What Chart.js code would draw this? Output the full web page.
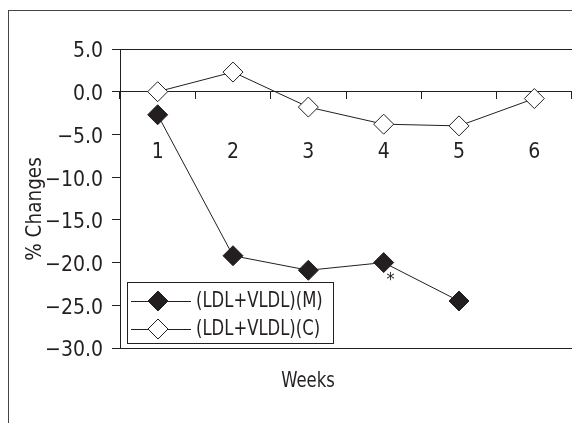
<!DOCTYPE html>
<html>
<head>
<meta charset="utf-8">
<script src="https://cdn.jsdelivr.net/npm/chart.js@4/dist/chart.umd.min.js"></script>
<style>
  html, body { margin: 0; padding: 0; background: #fff; }
  #wrap { width: 572px; height: 423px; }
</style>
</head>
<body>
<div id="wrap"><canvas id="lineChart" width="572" height="423"></canvas></div>
<script>
// values
const weeks = ['1', '2', '3', '4', '5', '6'];
const seriesM = [-2.7, -19.2, -20.9, -20.0, -24.5, null];
const seriesC = [0.0, 2.3, -1.8, -3.8, -4.0, -0.8];
const labelM = '(LDL+VLDL)(M)';
const labelC = '(LDL+VLDL)(C)';
const starWeek = 3; // index of the week marked with *

const FONT = "'Liberation Sans Narrow', 'DejaVu Sans Condensed', sans-serif";
const INK = '#231f20';

// squeezed text, the source font is a tall condensed face
function narrowText(c, text, x, y, squeeze) {
    c.save();
    c.translate(x, y);
    c.scale(squeeze, 1);
    c.fillText(text, 0, 0);
    c.restore();
}

// frame, titles, legend and the * mark
const extras = {
    id: 'extras',
    afterDraw(chart) {
        const c = chart.ctx;
        c.save();
        c.strokeStyle = '#444';
        c.lineWidth = 1;
        c.strokeRect(8.5, 10.5, chart.width + 20, chart.height + 20);

        c.fillStyle = INK;
        c.font = '21px ' + FONT;
        c.textAlign = 'center';
        c.textBaseline = 'middle';
        narrowText(c, 'Weeks', 308, 382, 0.87);

        c.save();
        c.translate(36, 209);
        c.rotate(-Math.PI / 2);
        c.font = '20.5px ' + FONT;
        c.fillText('% Changes', 0, 0);
        c.restore();

        // asterisk beside the marked point
        const pt = chart.getDatasetMeta(0).data[starWeek];
        c.font = '18px ' + FONT;
        c.fillText('*', pt.x + 7, pt.y + 18);

        // legend box
        const bx = 127, by = 282, bw = 206, bh = 61;
        c.fillStyle = '#fff';
        c.fillRect(bx, by, bw, bh);
        c.strokeStyle = INK;
        c.strokeRect(bx + 0.5, by + 0.5, bw, bh);
        const rows = [by + 19, by + 47];
        chart.data.datasets.forEach((ds, i) => {
            const y = rows[i];
            c.strokeStyle = ds.borderColor;
            c.lineWidth = 1;
            c.beginPath();
            c.moveTo(131, y + 0.5);
            c.lineTo(191, y + 0.5);
            c.stroke();
            c.beginPath();
            const r = ds.pointRadius;
            c.moveTo(158, y - r);
            c.lineTo(158 + r, y);
            c.lineTo(158, y + r);
            c.lineTo(158 - r, y);
            c.closePath();
            c.fillStyle = ds.pointBackgroundColor;
            c.fill();
            c.strokeStyle = ds.pointBorderColor;
            c.stroke();
            c.fillStyle = INK;
            c.font = '21px ' + FONT;
            c.textAlign = 'left';
            narrowText(c, ds.label, 196, y + 1, 0.87);
        });
        c.restore();
    }
};

const ctx = document.getElementById('lineChart').getContext('2d');
const lineChart = new Chart(ctx, {
    type: 'line',
    data: {
        labels: weeks,
        datasets: [{
            label: labelM,
            data: seriesM,
            borderColor: INK,
            borderWidth: 1,
            pointStyle: 'rectRot',
            pointRadius: 10,
            pointBackgroundColor: INK,
            pointBorderColor: INK,
            pointBorderWidth: 1,
            spanGaps: false,
        }, {
            label: labelC,
            data: seriesC,
            borderColor: INK,
            borderWidth: 1,
            pointStyle: 'rectRot',
            pointRadius: 10,
            pointBackgroundColor: '#fff',
            pointBorderColor: INK,
            pointBorderWidth: 1,
        }],
    },
    options: {
        responsive: false,
        animation: false,
        layout: { autoPadding: false, padding: { left: 0, top: 49, right: -1, bottom: 75 } },
        plugins: {
            legend: { display: false },
            tooltip: { enabled: false },
        },
        scales: {
            x: {
                type: 'category',
                position: { y: 0 },
                offset: true,
                afterFit(scale) { scale.paddingLeft = 0; scale.paddingRight = 0; },
                grid: {
                    offset: true,
                    drawOnChartArea: false,
                    tickLength: 7,
                    tickColor: INK,
                },
                border: { color: INK, width: 1 },
                ticks: {
                    padding: 41,
                    color: INK,
                    font: { family: FONT, size: 21 },
                },
            },
            y: {
                min: -30,
                max: 5,
                afterFit(scale) { scale.width = 120; },
                grid: {
                    color: (c) => (c.tick && (c.tick.value === 5 || c.tick.value === -30)) ? INK : 'rgba(0,0,0,0)',
                    tickColor: INK,
                    tickLength: 8,
                },
                border: { color: INK, width: 1 },
                ticks: {
                    stepSize: 5,
                    padding: 9,
                    labelOffset: 3,
                    color: INK,
                    font: { family: FONT, size: 21 },
                    callback: (v) => (v < 0 ? '\u2212' + Math.abs(v).toFixed(1) : v.toFixed(1)),
                },
            },
        },
    },
    plugins: [extras],
});
</script>
</body>
</html>
